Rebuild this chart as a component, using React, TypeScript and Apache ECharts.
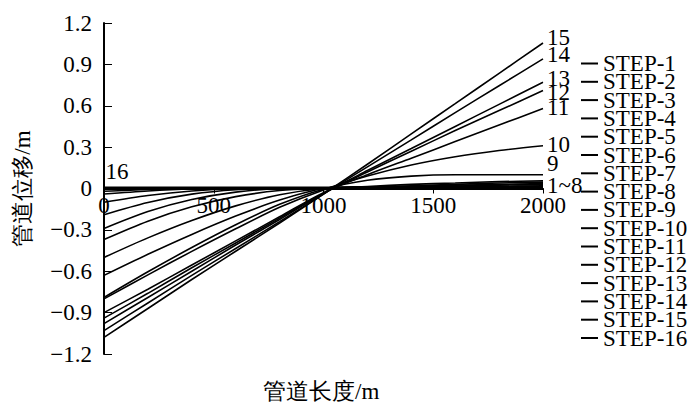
import React, { useEffect, useRef } from "react";
import * as echarts from "echarts";

const xs = [0, 200, 400, 600, 800, 1000, 1200, 1400, 1600, 1800, 2000];

const step1 = [-0.02, -0.007, -0.001, 0, 0, 0, 0.001, 0.002, 0.003, 0.004, 0.005];
const step2 = [-0.04, -0.018, -0.004, 0, 0, 0, 0.002, 0.004, 0.006, 0.008, 0.01];
const step3 = [-0.1, -0.051, -0.018, -0.002, 0, 0, 0.003, 0.006, 0.009, 0.012, 0.015];
const step4 = [-0.19, -0.101, -0.041, -0.009, 0, 0, 0.004, 0.008, 0.012, 0.016, 0.02];
const step5 = [-0.29, -0.167, -0.08, -0.026, -0.002, 0, 0.006, 0.012, 0.018, 0.024, 0.03];
const step6 = [-0.37, -0.237, -0.133, -0.059, -0.015, 0, 0.008, 0.016, 0.024, 0.03, 0.035];
const step7 = [-0.5, -0.358, -0.232, -0.126, -0.045, 0, 0.01, 0.02, 0.03, 0.04, 0.045];
const step8 = [-0.63, -0.477, -0.333, -0.2, -0.084, 0, 0.015, 0.03, 0.04, 0.05, 0.055];
const step9 = [-0.79, -0.604, -0.428, -0.263, -0.115, -0.005, 0.06, 0.09, 0.1, 0.1, 0.1];
const step10 = [-0.8, -0.626, -0.456, -0.292, -0.136, -0.01, 0.09, 0.17, 0.23, 0.275, 0.31];
const step11 = [-0.9, -0.73, -0.555, -0.38, -0.205, -0.03, 0.1, 0.22, 0.34, 0.46, 0.58];
const step12 = [-0.94, -0.76, -0.575, -0.395, -0.215, -0.035, 0.12, 0.27, 0.42, 0.565, 0.71];
const step13 = [-0.98, -0.79, -0.6, -0.41, -0.225, -0.035, 0.13, 0.29, 0.45, 0.61, 0.77];
const step14 = [-1.03, -0.83, -0.63, -0.435, -0.24, -0.04, 0.157, 0.353, 0.55, 0.745, 0.94];
const step15 = [-1.08, -0.87, -0.66, -0.455, -0.25, -0.04, 0.176, 0.396, 0.615, 0.835, 1.055];
const step16 = [0.008, 0.008, 0.008, 0.008, 0.008, 0.008, 0.008, 0.008, 0.008, 0.008, 0.008];

const stepValues = [
  step1, step2, step3, step4, step5, step6, step7, step8,
  step9, step10, step11, step12, step13, step14, step15, step16,
];
const stepNames = stepValues.map((_, i) => `STEP-${i + 1}`);
const endLabelTexts = ["", "", "", "", "", "", "", "1~8", "9", "10", "11", "12", "13", "14", "15", ""];
const startLabelText = "16";

const xTicks = [0, 500, 1000, 1500, 2000];
const yMin = -1.2;
const yMax = 1.2;
const yStep = 0.3;

const xName = "管道长度/m";
const yName = "管道位移/m";

// layout / label placement tweaks (style, not data)
const GRID_TOP = 23;
const GRID_BOTTOM = 66;
const GRID_H = 420 - GRID_TOP - GRID_BOTTOM;
const endLabelOffsets: number[][] = [
  [0, 0], [0, 0], [0, 0], [0, 0], [0, 0], [0, 0], [0, 0], [-4, 5],
  [-4, -11], [-4, -1], [-4, -1], [-4, 2], [-4, -4], [-4, -4], [-4, -5], [0, 0],
];

const FONT = "Liberation Serif";
const FS = 23;

export default function App() {
  const ref = useRef<HTMLDivElement>(null);
  useEffect(() => {
    if (!ref.current) return;
    const chart = echarts.init(ref.current, undefined, { renderer: "svg" });
    // x axis sits on the y = 0 line: distance of zero from the grid bottom
    const zeroFromBottom = (GRID_H * (0 - yMin)) / (yMax - yMin);
    const series = stepValues.map((vals, si) => {
      const data: any[] = xs.map((x, i) => [x, vals[i]]);
      const isStart = si === 15;
      if (isStart) {
        data[0] = {
          value: data[0],
          label: {
            show: true,
            formatter: startLabelText,
            position: [2, -27],
            fontFamily: FONT,
            fontSize: FS,
            color: "#000",
          },
        };
      }
      const txt = endLabelTexts[si];
      return {
        name: stepNames[si],
        type: "line",
        data,
        symbol: isStart ? "circle" : "none",
        symbolSize: 1,
        showSymbol: isStart,
        smooth: 0.3,
        lineStyle: { color: "#000", width: 1.6 },
        itemStyle: { color: isStart ? "rgba(0,0,0,0)" : "#000", borderWidth: 0 },
        endLabel: txt
          ? {
              show: true,
              formatter: txt,
              offset: endLabelOffsets[si],
              fontFamily: FONT,
              fontSize: FS,
              color: "#000",
            }
          : { show: false },
      };
    });
    chart.setOption({
      animation: false,
      backgroundColor: "#fff",
      textStyle: { fontFamily: FONT, color: "#000" },
      grid: {
        left: 104,
        right: 157,
        top: GRID_TOP,
        bottom: GRID_BOTTOM,
        outerBoundsMode: "none",
        containLabel: false,
      },
      legend: {
        orient: "vertical",
        left: 581,
        top: 52,
        padding: 0,
        itemWidth: 17,
        itemHeight: 2,
        itemGap: -4.7,
        icon: "rect",
        data: stepNames.map((n) => ({ name: n, itemStyle: { color: "#000" } })),
        inactiveColor: "#000",
        textStyle: {
          fontFamily: FONT,
          fontSize: FS,
          color: "#000",
        },
      },
      graphic: [
        {
          type: "text",
          left: 263,
          top: 380,
          silent: true,
          style: {
            text: xName,
            fontFamily: FONT,
            fontSize: FS,
            fill: "#000",
          },
        },
      ],
      xAxis: {
        type: "value",
        min: xTicks[0],
        max: xTicks[xTicks.length - 1],
        interval: xTicks[1] - xTicks[0],
        position: "bottom",
        offset: -zeroFromBottom,
        axisLine: { onZero: false, lineStyle: { color: "#000", width: 2 } },
        axisTick: { show: true, inside: false, length: 5, lineStyle: { color: "#000" } },
        axisLabel: {
          fontFamily: FONT,
          fontSize: FS,
          color: "#000",
          margin: 5,
          formatter: (v: number) => String(Math.round(v)),
        },
        splitLine: { show: false },
      },
      yAxis: {
        type: "value",
        min: yMin,
        max: yMax,
        interval: yStep,
        name: yName,
        nameLocation: "middle",
        nameGap: 70,
        nameTextStyle: { fontFamily: FONT, fontSize: FS, color: "#000" },
        axisLine: { show: true, lineStyle: { color: "#000", width: 2 } },
        axisTick: { show: true, inside: true, length: 8, lineStyle: { color: "#000" } },
        axisLabel: {
          fontFamily: FONT,
          fontSize: FS,
          color: "#000",
          margin: 12,
          showMinLabel: true,
          showMaxLabel: true,
          formatter: (v: number) => {
            const r = Math.round(v * 10) / 10;
            if (r === 0) return "0";
            return r.toFixed(1).replace("-", "\u2212");
          },
        },
        splitLine: { show: false },
      },
      series,
    });
    return () => chart.dispose();
  }, []);
  return (
    <div
      ref={ref}
      style={{ position: "absolute", left: 0, top: 0, width: 700, height: 420 }}
    />
  );
}
